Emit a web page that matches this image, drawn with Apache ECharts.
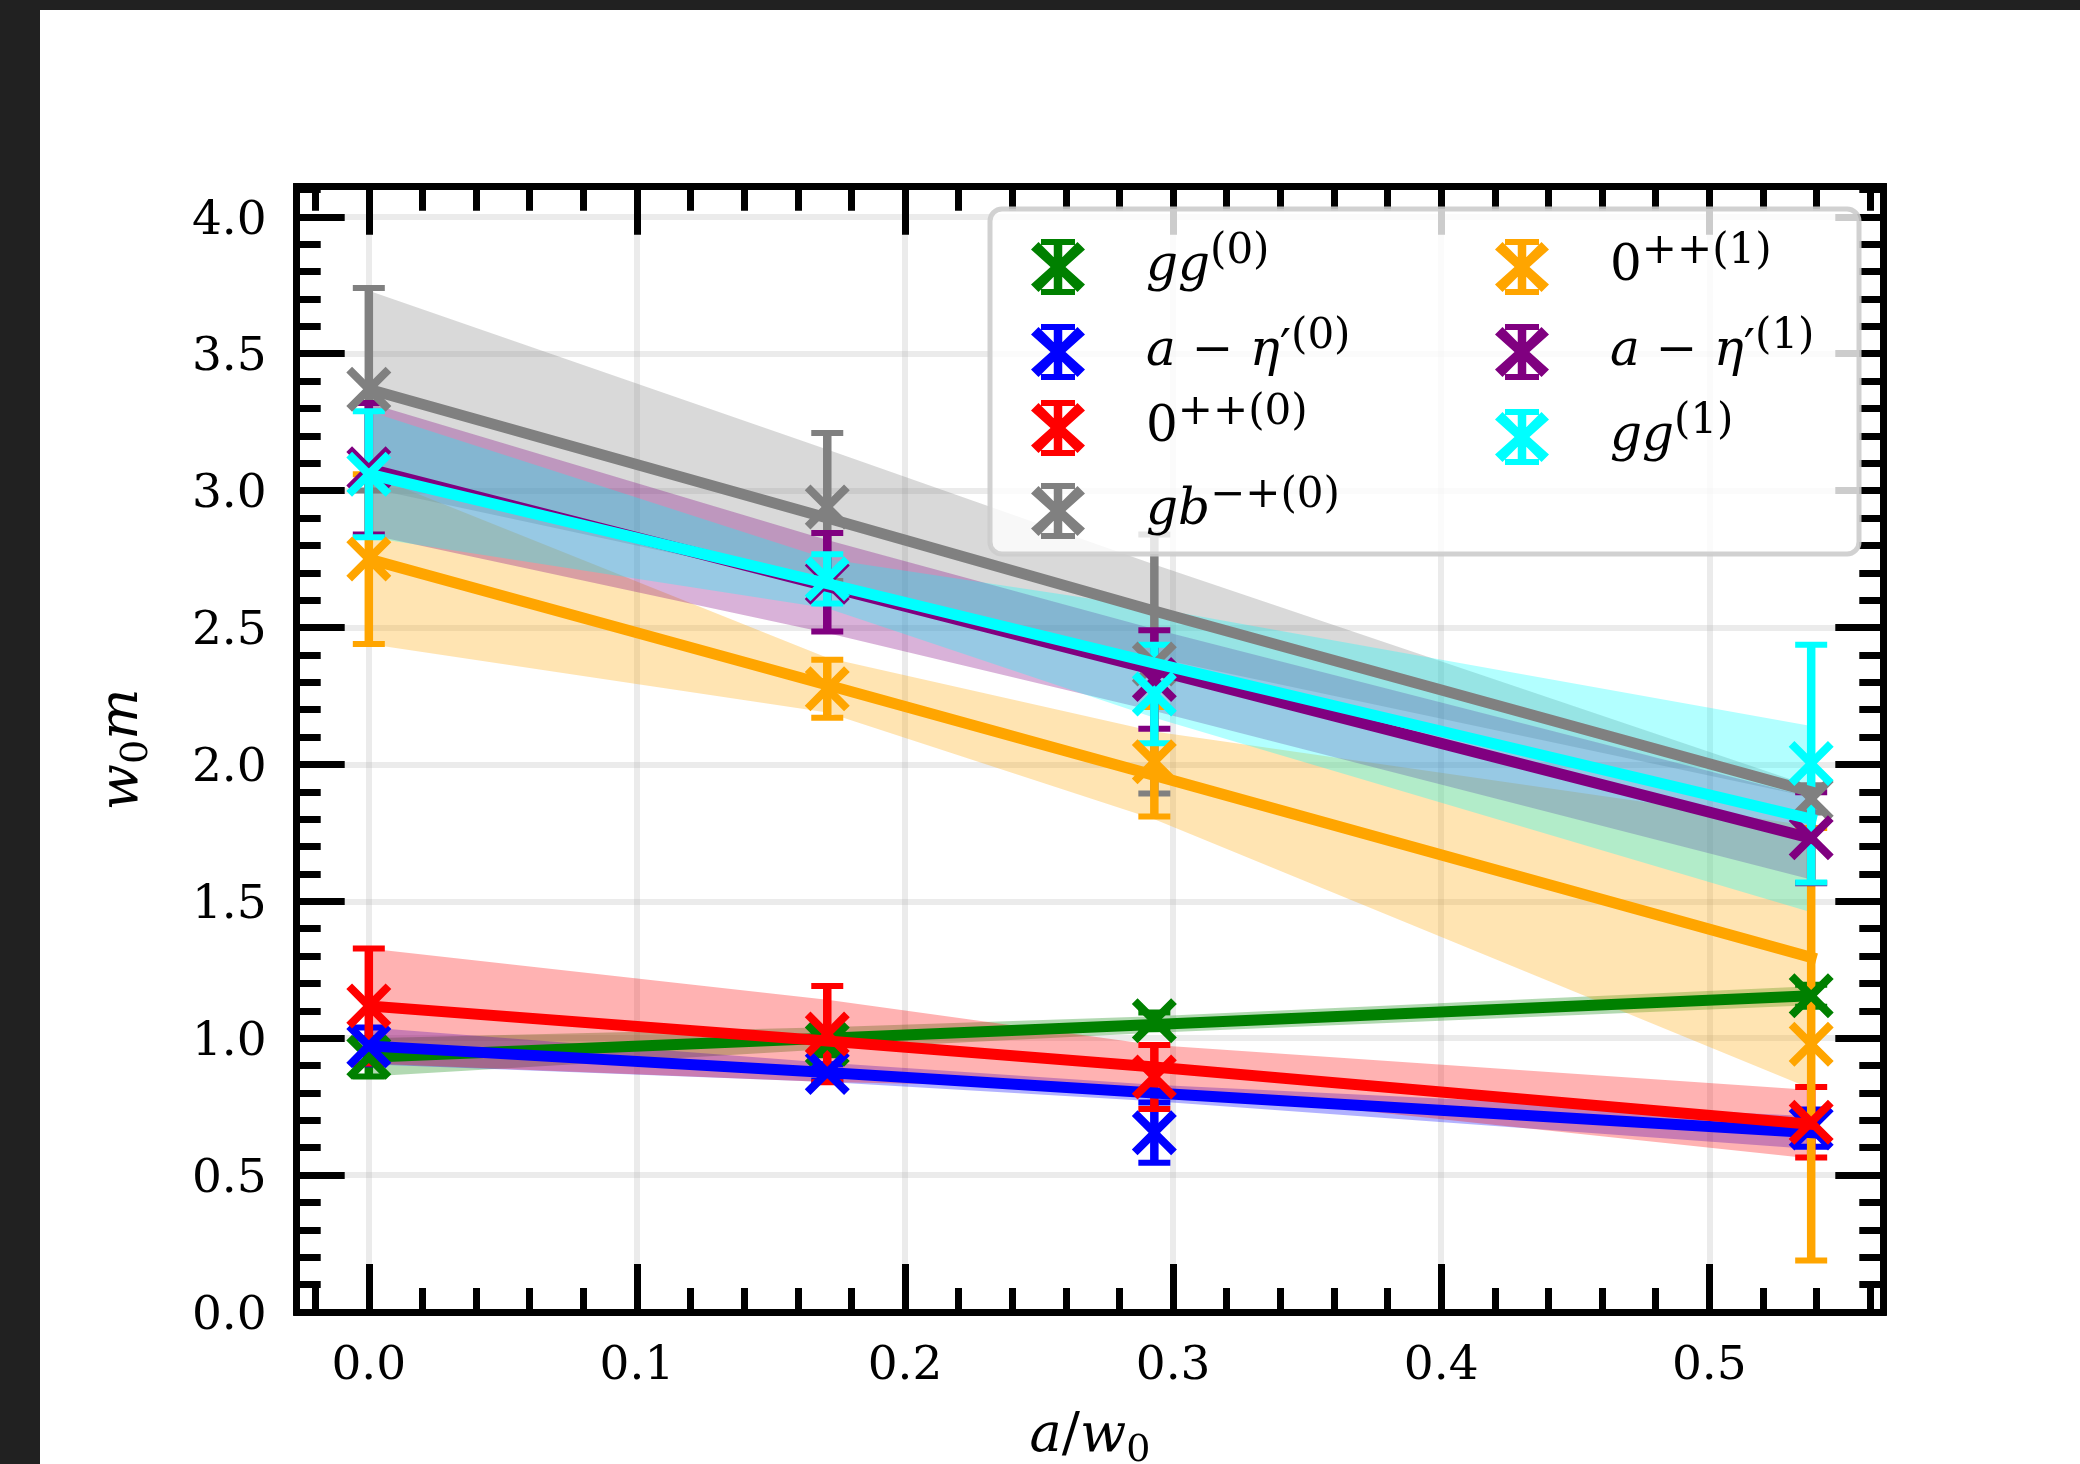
<!DOCTYPE html>
<html>
<head>
    <meta charset="utf-8">
    <title>w0 m vs a/w0</title>
    <script src="https://cdn.jsdelivr.net/npm/echarts@6.0.0/dist/echarts.min.js"></script>
    <style>
        html, body { margin: 0; padding: 0; background: #fff; }
        #chart { width: 2080px; height: 1464px; }
    </style>
</head>
<body>
<div id="chart"></div>
<script type="text/javascript">
    // a/w0 positions: continuum point + three lattice spacings
    var xs = [0, 0.171, 0.293, 0.538];

    // fit line, half width of fit band, data value, data error (per x)
    var gg0Fit = [0.93, 1.00, 1.05, 1.155];
    var gg0Band = [0.07, 0.04, 0.03, 0.035];
    var gg0Val = [0.93, 0.978, 1.064, 1.155];
    var gg0Err = [0.07, 0.04, 0.03, 0.04];

    var aeta0Fit = [0.972, 0.875, 0.80, 0.655];
    var aeta0Band = [0.067, 0.035, 0.03, 0.06];
    var aeta0Val = [0.972, 0.875, 0.655, 0.672];
    var aeta0Err = [0.067, 0.03, 0.11, 0.068];

    var pp0Fit = [1.118, 0.99, 0.895, 0.686];
    var pp0Band = [0.21, 0.15, 0.08, 0.125];
    var pp0Val = [1.118, 1.015, 0.858, 0.693];
    var pp0Err = [0.21, 0.176, 0.117, 0.129];

    var gb0Fit = [3.37, 2.90, 2.56, 1.90];
    var gb0Band = [0.36, 0.25, 0.17, 0.02];
    var gb0Val = [3.37, 2.94, 2.367, 1.874];
    var gb0Err = [0.37, 0.27, 0.473, 0.05];

    var pp1Fit = [2.75, 2.29, 1.96, 1.295];
    var pp1Band = [0.31, 0.10, 0.16, 0.48];
    var pp1Val = [2.75, 2.276, 2.01, 0.978];
    var pp1Err = [0.31, 0.106, 0.20, 0.79];

    var aeta1Fit = [3.08, 2.65, 2.345, 1.73];
    var aeta1Band = [0.24, 0.17, 0.15, 0.15];
    var aeta1Val = [3.08, 2.665, 2.31, 1.732];
    var aeta1Err = [0.24, 0.18, 0.18, 0.166];

    var gg1Fit = [3.06, 2.66, 2.37, 1.80];
    var gg1Band = [0.23, 0.09, 0.20, 0.34];
    var gg1Val = [3.06, 2.678, 2.257, 2.003];
    var gg1Err = [0.23, 0.09, 0.18, 0.434];

    var seriesKeys = ['gg0', 'aeta0', 'pp0', 'gb0', 'pp1', 'aeta1', 'gg1'];
    var seriesColors = ['#008000', '#0000ff', '#ff0000', '#808080', '#ffa500', '#800080', '#00ffff'];
    var legendLabels = [
        '{g| }{m|gg}{s|(0)}',
        '{g| }{m|a}{mi|−}{m|η}{r|′}{s|(0)}',
        '{g| }{r|0}{s|++(0)}',
        '{g| }{m|gb}{s|−+(0)}',
        '{g| }{r|0}{s|++(1)}',
        '{g| }{m|a}{mi|−}{m|η}{r|′}{s|(1)}',
        '{g| }{m|gg}{s|(1)}'
    ];

    var rows = [
        {fit: gg0Fit, band: gg0Band, val: gg0Val, err: gg0Err},
        {fit: aeta0Fit, band: aeta0Band, val: aeta0Val, err: aeta0Err},
        {fit: pp0Fit, band: pp0Band, val: pp0Val, err: pp0Err},
        {fit: gb0Fit, band: gb0Band, val: gb0Val, err: gb0Err},
        {fit: pp1Fit, band: pp1Band, val: pp1Val, err: pp1Err},
        {fit: aeta1Fit, band: aeta1Band, val: aeta1Val, err: aeta1Err},
        {fit: gg1Fit, band: gg1Band, val: gg1Val, err: gg1Err}
    ];

    var SERIF = "'DejaVu Serif', serif";
    var xMark = 'path://M0,12.7 L12.7,0 L50,37.3 L87.3,0 L100,12.7 L62.7,50 L100,87.3 L87.3,100 L50,62.7 L12.7,100 L0,87.3 L37.3,50 Z';
    // legend handle: x marker with error bar and caps (54 x 56 box)
    var legendIcon = 'path://M0,10.5 L7.5,3 L27,22.5 L46.5,3 L54,10.5 L34.5,28 L54,45.5 L46.5,53 L27,33.5 L7.5,53 L0,45.5 L19.5,28 Z ' +
        'M10,0 L44,0 L44,6 L10,6 Z M10,50 L44,50 L44,56 L10,56 Z M22.75,0 L31.25,0 L31.25,56 L22.75,56 Z';

    // legend item positions (left, top)
    var legendPos = [[1031, 231], [1031, 316], [1031, 392], [1031, 475], [1495, 231], [1495, 316], [1495, 401]];

    function renderBand(params, api) {
        if (params.dataIndexInside !== 0) return null;
        var upper = [], lower = [];
        for (var i = 0; i < xs.length; i++) {
            var x = api.value(0, i);
            upper.push(api.coord([x, api.value(2, i)]));
            lower.unshift(api.coord([x, api.value(1, i)]));
        }
        return {
            type: 'polygon',
            shape: {points: upper.concat(lower)},
            style: {fill: api.visual('color'), opacity: 0.3}
        };
    }

    function renderErr(params, api) {
        var x = api.value(0);
        var top = api.coord([x, api.value(2)]);
        var bot = api.coord([x, api.value(1)]);
        var c = api.visual('color');
        var hw = 16;
        return {
            type: 'group',
            children: [
                {type: 'line', shape: {x1: top[0], y1: top[1], x2: bot[0], y2: bot[1]}, style: {stroke: c, lineWidth: 8.5}},
                {type: 'line', shape: {x1: top[0] - hw, y1: top[1], x2: top[0] + hw, y2: top[1]}, style: {stroke: c, lineWidth: 6}},
                {type: 'line', shape: {x1: bot[0] - hw, y1: bot[1], x2: bot[0] + hw, y2: bot[1]}, style: {stroke: c, lineWidth: 6}}
            ]
        };
    }

    var series = [];
    rows.forEach(function (r, k) {
        series.push({
            type: 'custom', name: seriesKeys[k] + '_band', z: 1, clip: true, silent: true,
            itemStyle: {color: seriesColors[k]},
            encode: {x: 0, y: [1, 2]},
            data: xs.map(function (x, i) { return [x, r.fit[i] - r.band[i], r.fit[i] + r.band[i]]; }),
            renderItem: renderBand
        });
    });
    rows.forEach(function (r, k) {
        series.push({
            type: 'custom', name: seriesKeys[k] + '_err', z: 2, clip: true, silent: true,
            itemStyle: {color: seriesColors[k]},
            encode: {x: 0, y: [1, 2]},
            data: xs.map(function (x, i) { return [x, r.val[i] - r.err[i], r.val[i] + r.err[i]]; }),
            renderItem: renderErr
        });
    });
    rows.forEach(function (r, k) {
        series.push({
            type: 'line', name: seriesKeys[k] + '_fit', z: 3 + k, silent: true,
            showSymbol: false,
            lineStyle: {color: seriesColors[k], width: 11, cap: 'square', join: 'round'},
            itemStyle: {color: seriesColors[k]},
            data: xs.map(function (x, i) { return [x, r.fit[i]]; })
        });
        series.push({
            type: 'scatter', name: seriesKeys[k], z: 3 + k, silent: true,
            symbol: xMark, symbolSize: 45,
            itemStyle: {color: seriesColors[k], opacity: 1},
            data: xs.map(function (x, i) { return [x, r.val[i]]; })
        });
    });

    var richLegend = {
        g: {width: 56},
        m: {fontFamily: SERIF, fontStyle: 'italic', fontSize: 50, lineHeight: 72},
        r: {fontFamily: SERIF, fontSize: 50, lineHeight: 72},
        mi: {fontFamily: SERIF, fontSize: 50, lineHeight: 72, padding: [0, 16, 0, 16]},
        s: {fontFamily: SERIF, fontSize: 42, lineHeight: 32, verticalAlign: 'top'}
    };

    var legends = seriesKeys.map(function (key, k) {
        return {
            data: [{name: key, icon: legendIcon}],
            left: legendPos[k][0], top: legendPos[k][1],
            orient: 'vertical', padding: 0,
            itemWidth: 54, itemHeight: 56,
            selectedMode: false, z: 30,
            formatter: function () { return legendLabels[k]; },
            textStyle: {fontFamily: SERIF, fontSize: 50, color: '#000', lineHeight: 72, rich: richLegend}
        };
    });

    var tickStyle = {color: '#000', width: 7};
    var frameLine = {show: true, onZero: false, lineStyle: {color: '#000', width: 7, cap: 'square'}};
    var gridLine = {show: true, lineStyle: {color: 'rgba(176,176,176,0.25)', width: 6}};
    var labelFmt = function (v) { return v.toFixed(1); };
    // y labels: a tall spacer token pushes the digits a few px down onto the tick
    var yLabelFmt = function (v) { return '{sp| }{n|' + v.toFixed(1) + '}'; };
    var nameRich = {
        i: {fontFamily: SERIF, fontStyle: 'italic', fontSize: 54, lineHeight: 66},
        r: {fontFamily: SERIF, fontSize: 54, lineHeight: 66},
        b: {fontFamily: SERIF, fontSize: 38, lineHeight: 40, verticalAlign: 'bottom'}
    };

    var xBase = {
        type: 'value', min: -0.0269, max: 0.5649, splitNumber: 6,
        axisLine: frameLine,
        axisTick: {show: true, inside: true, length: 48, lineStyle: tickStyle},
        minorTick: {show: true, splitNumber: 5, length: 24, lineStyle: tickStyle}
    };
    var yBase = {
        type: 'value', min: 0, max: 4.11, interval: 0.5,
        axisLine: frameLine,
        axisTick: {show: true, inside: true, length: 48, lineStyle: tickStyle},
        minorTick: {show: true, splitNumber: 5, length: 24, lineStyle: tickStyle}
    };

    var option = {
        animation: false,
        backgroundColor: '#ffffff',
        grid: {left: 296.7, right: 196.7, top: 186.7, bottom: 152, containLabel: false, outerBoundsMode: 'none'},
        xAxis: [
            Object.assign({}, xBase, {
                position: 'bottom',
                splitLine: gridLine,
                axisLabel: {show: true, margin: 31, formatter: labelFmt, showMinLabel: false, showMaxLabel: false,
                    fontFamily: SERIF, fontSize: 47, color: '#000'},
                name: '{i|a}{r|/}{i|w}{b|0}', nameLocation: 'middle', nameGap: 92,
                nameTextStyle: {color: '#000', rich: nameRich}
            }),
            Object.assign({}, xBase, {
                position: 'top',
                splitLine: {show: false},
                axisLabel: {show: false}
            })
        ],
        yAxis: [
            Object.assign({}, yBase, {
                position: 'left',
                splitLine: gridLine,
                axisLabel: {show: true, margin: 30, formatter: yLabelFmt, showMaxLabel: false,
                    fontFamily: SERIF, fontSize: 47, color: '#000',
                    rich: {
                        sp: {width: 1, lineHeight: 56},
                        n: {fontFamily: SERIF, fontSize: 47, lineHeight: 47, verticalAlign: 'bottom'}
                    }},
                name: '{i|w}{b|0}{i|m}', nameLocation: 'middle', nameGap: 141, nameRotate: 90,
                nameTextStyle: {color: '#000', rich: nameRich}
            }),
            Object.assign({}, yBase, {
                position: 'right',
                splitLine: {show: false},
                axisLabel: {show: false}
            })
        ],
        legend: legends,
        graphic: [
            {type: 'rect', z: 100, shape: {x: 0, y: 0, width: 2080, height: 10}, style: {fill: '#212121'}},
            {type: 'rect', z: 100, shape: {x: 0, y: 0, width: 40, height: 1464}, style: {fill: '#212121'}},
            {type: 'rect', z: 20, shape: {x: 990, y: 209, width: 869, height: 345, r: 12},
                style: {fill: 'rgba(255,255,255,0.8)', stroke: 'rgba(204,204,204,0.9)', lineWidth: 5}}
        ],
        series: series
    };

    var myChart = echarts.init(document.getElementById('chart'));
    myChart.setOption(option);
</script>
</body>
</html>
